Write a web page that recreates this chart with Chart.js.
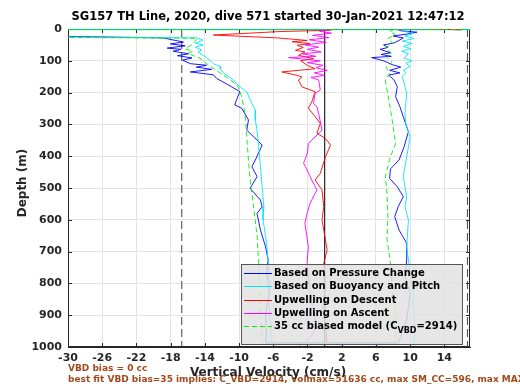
<!DOCTYPE html>
<html>
<head>
<meta charset="utf-8">
<script src="https://cdn.jsdelivr.net/npm/chart.js@4"></script>
<style>
  body { margin: 0; background: #fff; }
  canvas { display: block; }
</style>
</head>
<body>
<canvas id="chart" width="520" height="390"></canvas>
<script>
// Axis ticks
const xTicks = [-30, -26, -22, -18, -14, -10, -6, -2, 2, 6, 10, 14];
const yTicks = [0, 100, 200, 300, 400, 500, 600, 700, 800, 900, 1000];

// Based on Pressure Change (descent, then ascent)
const pcVel = [-40, -18.9, -16.5, -18.0, -16.3, -18.4, -16.8, -17.7, -15.9, -17.2, -15.5, -16.6, -15.7, -13.8, -15.0, -13.2, -15.7, -13.0, -12.6, -11.3, -9.9, -10.3, -10.5, -9.7, -8.9, -9.1, -8.3, -7.3, -8.1, -8.5, -7.9, -8.7, -7.5, -7.3, -7.9, -7.5, -6.9, -6.6, -6.8, -6.4, -6.9, -6.8, -6.9,
  8.6, 8.9, 9.6, 10.0, 9.4, 9.6, 9.6, 8.7, 8.2, 8.6, 9.2, 8.5, 7.6, 7.7, 8.7, 9.3, 9.8, 9.2, 8.8, 8.3, 8.5, 8.1, 7.5, 8.8, 7.6, 8.9, 7.9, 6.9, 5.5, 7.8, 6.6, 7.7, 6.5, 7.4, 6.9, 8.1, 8.7, 9.2, 8.0, 9.6, 10.8, 9.0, 8.5];
const pcDepth = [19, 28, 41, 47, 53, 60, 64, 70, 78, 84, 91, 98, 109, 114, 120, 127, 135, 144, 156, 175, 197, 223, 239, 249, 286, 318, 339, 365, 412, 433, 464, 501, 538, 559, 580, 632, 685, 726, 768, 821, 894, 957, 987,
  987, 967, 915, 831, 779, 726, 674, 632, 590, 559, 527, 496, 470, 440, 412, 370, 323, 276, 244, 213, 181, 160, 145, 138, 130, 120, 112, 100, 90, 86, 80, 75, 64, 58, 50, 44, 36, 28, 22, 16, 10, 6, 2];

// Based on Buoyancy and Pitch
const bpVel = [20, -40, -40, -14.9, -14.2, -15.1, -14.2, -15.1, -14.4, -14.8, -14.2, -13.8, -13.2, -13.0, -12.2, -12.2, -11.8, -11.4, -10.65, -10.3, -9.7, -9.1, -8.7, -8.1, -8.1, -7.9, -7.7, -7.5, -7.3, -7.1, -7.2, -6.9, -6.75, -6.55, -6.55, -6.4, -6.2, -6.0,
  10.5, 10.6, 10.4, 10.4, 10.0, 9.6, 9.8, 9.4, 9.6, 9.2, 9.6, 10.0, 9.5, 9.4, 9.6, 9.4, 9.2, 9.05, 9.5, 9.2, 10.0, 9.5, 10.2, 9.3, 9.8, 9.0, 10.1, 9.2, 10.2, 9.1, 10.4, 9.4, 10.3, 9.5, 9.6];
const bpDepth = [2, 2, 23, 28, 35, 45, 50, 57, 66, 72, 83, 90, 103, 109, 118, 125, 139, 146, 160, 172, 185, 197, 223, 255, 286, 318, 370, 433, 496, 559, 600, 650, 685, 747, 821, 915, 978, 992,
  992, 936, 870, 821, 768, 685, 600, 560, 527, 464, 402, 339, 300, 265, 202, 181, 160, 150, 138, 129, 118, 108, 100, 92, 77, 70, 62, 55, 45, 38, 30, 22, 15, 8, 3];

// Upwelling on Descent
const udVel = [16, 12, 1, 0.7, -5.2, -13, -5.5, -2.05, -3.8, -1.7, -3.2, -2.5, -3.4, -2.3, -3.05, -1.3, -2.8, -2.05, -1.1, -5.0, -3.2, -2.65, -3.05, -2.65, -1.1, -1.5, -1.9, -1.1, -0.5, -0.9, 0.1, 0.7, 0.1, -0.5, -1.1, -0.3, -0.1, -0.3, 0.3, -0.1, 0.1, -0.2, 0.1, 0.3, 1.3];
const udDepth = [3, -1, -1, 4, 8, 19, 28, 36, 40, 46, 51, 58, 67, 72, 83, 93, 100, 114, 125, 135, 146, 151, 161, 182, 197, 229, 249, 276, 297, 328, 344, 365, 402, 454, 475, 506, 559, 600, 695, 737, 800, 880, 940, 983, 992];

// Upwelling on Ascent (bottom to surface)
const uaVel = [-2.85, -1.7, -0.9, -1.3, -1.7, -2.0, -2.05, -1.9, -2.3, -2.05, -1.7, -0.9, -1.5, -2.05, -2.46, -2.0, -1.9, -0.3, -0.7, -0.9, -1.3, -1.1, -0.5, -0.7, -1.6, 0.0, -1.2, 0.3, -1.0, -0.2, -2.0, -0.5, -4.2, -1.0, -2.6, -0.4, -2.0, -0.7, -2.3, 0.2, -1.8, 0.5, -1.4, 0.8, -0.6, 0.6];
const uaDepth = [995, 973, 936, 894, 821, 760, 737, 685, 611, 580, 548, 506, 475, 443, 422, 390, 360, 318, 265, 244, 234, 202, 192, 160, 152, 146, 138, 130, 122, 114, 106, 100, 90, 86, 78, 72, 64, 57, 50, 42, 34, 27, 20, 13, 7, 2];

// 35 cc biased model
const modelVel = [20, -40, -40, -14.9, -15.3, -16.3, -15.4, -16.0, -14.55, -13.6, -12.2, -11.0, -10.1, -9.7, -9.3, -9.1, -8.9, -8.7, -8.3, -7.9, -7.7, -7.5, -7.3,
  8.3, 8.3, 7.9, 7.7, 7.3, 7.4, 7.3, 7.1, 7.6, 8.3, 7.9, 7.5, 7.1, 7.6, 7.2, 7.9, 7.3, 7.8, 7.1, 8.0, 7.4, 8.3, 7.6, 8.0];
const modelDepth = [2, 2, 25, 29, 45, 62, 70, 77, 92, 113, 139, 160, 181, 213, 265, 339, 412, 475, 559, 650, 737, 894, 989,
  989, 894, 820, 737, 660, 590, 517, 464, 410, 360, 286, 223, 160, 140, 120, 105, 90, 75, 60, 45, 30, 18, 8, 3];

// reference lines
const limitVel = [-16.7, 16.7];
const zeroVel = [0];

const seriesNames = ['Based on Pressure Change', 'Based on Buoyancy and Pitch', 'Upwelling on Descent', 'Upwelling on Ascent', '35 cc biased model'];
const seriesColors = ['#0000ff', '#00e5ff', '#ff0000', '#ff00ff', '#00ee00'];

const pts = (vel, depth) => vel.map((v, i) => ({x: v, y: depth[i]}));
const FONT = 'DejaVu Sans';
const AXIS = '#262626';

const datasets = [
  {data: pts(pcVel, pcDepth), borderColor: seriesColors[0], order: 5},
  {data: pts(bpVel, bpDepth), borderColor: seriesColors[1], order: 4},
  {data: pts(udVel, udDepth), borderColor: seriesColors[2], order: 3},
  {data: pts(uaVel, uaDepth), borderColor: seriesColors[3], order: 2},
  {data: pts(modelVel, modelDepth), borderColor: seriesColors[4], borderDash: [5, 3], order: 1},
];
limitVel.forEach(v => datasets.push({data: [{x: v, y: 0}, {x: v, y: 1000}], borderColor: '#404040', borderDash: [8, 4], order: 6}));
zeroVel.forEach(v => datasets.push({data: [{x: v, y: 0}, {x: v, y: 1000}], borderColor: '#303030', order: 6}));
datasets.forEach(d => {
  d.showLine = true;
  d.pointRadius = 0;
  d.borderWidth = d.order < 6 ? 0.9 : 1;
  d.fill = false;
  d.clip = 0;
});

const decor = {
  id: 'decor',
  beforeDatasetsDraw(chart) {
    const {ctx, chartArea: a, scales: {x, y}} = chart;
    ctx.save();
    ctx.strokeStyle = AXIS;
    ctx.lineWidth = 1;
    ctx.strokeRect(a.left + 0.5, a.top + 0.5, a.right - a.left - 1, a.bottom - a.top - 1);
    ctx.beginPath();
    xTicks.forEach(v => {
      const px = Math.round(x.getPixelForValue(v)) + 0.5;
      ctx.moveTo(px, a.bottom); ctx.lineTo(px, a.bottom - 4);
      ctx.moveTo(px, a.top); ctx.lineTo(px, a.top + 4);
    });
    yTicks.forEach(v => {
      const py = Math.round(y.getPixelForValue(v)) + 0.5;
      ctx.moveTo(a.left, py); ctx.lineTo(a.left + 4, py);
      ctx.moveTo(a.right, py); ctx.lineTo(a.right - 4, py);
    });
    ctx.stroke();
    ctx.restore();
  },
  afterDatasetsDraw(chart) {
    const {ctx, chartArea: a} = chart;
    const bx = Math.round(a.right - 229), by = Math.round(a.bottom - 83), bw = 221, bh = 80;
    ctx.save();
    ctx.fillStyle = 'rgba(226,226,226,0.85)';
    ctx.fillRect(bx, by, bw, bh);
    ctx.strokeStyle = '#555';
    ctx.lineWidth = 1;
    ctx.strokeRect(bx + 0.5, by + 0.5, bw, bh);
    ctx.font = 'bold 10px ' + FONT;
    ctx.textBaseline = 'middle';
    ctx.fillStyle = '#000';
    seriesNames.forEach((name, i) => {
      const ry = Math.round(by + 9 + i * 13.3) + 0.5;
      ctx.beginPath();
      ctx.strokeStyle = seriesColors[i];
      ctx.setLineDash(i === 4 ? [5, 3] : []);
      ctx.moveTo(bx + 3, ry); ctx.lineTo(bx + 31, ry);
      ctx.stroke();
      ctx.setLineDash([]);
      let tx = bx + 33;
      if (i === 4) {
        const head = name + ' (C';
        ctx.fillText(head, tx, ry);
        tx += ctx.measureText(head).width;
        ctx.font = 'bold 8px ' + FONT;
        ctx.fillText('VBD', tx, ry + 4);
        tx += ctx.measureText('VBD').width;
        ctx.font = 'bold 10px ' + FONT;
        ctx.fillText('=2914)', tx, ry);
      } else {
        ctx.fillText(name, tx, ry);
      }
    });
    ctx.restore();
  },
  afterDraw(chart) {
    const {ctx} = chart;
    ctx.save();
    ctx.textBaseline = 'middle';
    ctx.fillStyle = '#000';
    ctx.textAlign = 'center';
    ctx.font = 'bold 11.5px ' + FONT;
    ctx.fillText('SG157 TH Line, 2020, dive 571 started 30-Jan-2021 12:47:12', 268, 17);
    // notes under the axis
    ctx.textAlign = 'left';
    ctx.fillStyle = '#a24a1c';
    ctx.font = 'bold 9px ' + FONT;
    ctx.fillText('VBD bias = 0 cc', 68, 369);
    ctx.fillText('best fit VBD bias=35 implies: C_VBD=2914, Volmax=51636 cc, max SM_CC=596, max MAX_BUOY', 68, 380);
    ctx.fillStyle = AXIS;
    ctx.textAlign = 'center';
    ctx.font = 'bold 12px ' + FONT;
    ctx.fillText('Vertical Velocity (cm/s)', 268, 373);
    ctx.translate(23, 183);
    ctx.rotate(-Math.PI / 2);
    ctx.font = 'bold 12px ' + FONT;
    ctx.fillText('Depth (m)', 0, 0);
    ctx.restore();
  }
};

const tickFont = {family: FONT, size: 11, weight: 'bold'};

new Chart(document.getElementById('chart').getContext('2d'), {
  type: 'scatter',
  data: {datasets},
  options: {
    responsive: false,
    animation: false,
    devicePixelRatio: 1,
    layout: {padding: {left: 0, right: 50, top: 29, bottom: 0}},
    plugins: {legend: {display: false}, tooltip: {enabled: false}},
    scales: {
      x: {
        type: 'linear', min: -30, max: 17,
        afterBuildTicks: s => { s.ticks = xTicks.map(v => ({value: v})); },
        afterFit: s => { s.height = 43; },
        ticks: {font: tickFont, color: AXIS, padding: 5, maxRotation: 0, autoSkip: false, callback: v => String(v)},
        grid: {color: '#e3e3e3', drawTicks: false},
        border: {color: AXIS}
      },
      y: {
        type: 'linear', reverse: true, min: 0, max: 1000,
        afterBuildTicks: s => { s.ticks = yTicks.map(v => ({value: v})); },
        afterFit: s => { s.width = 68; },
        ticks: {font: tickFont, color: AXIS, padding: 6, autoSkip: false, callback: v => String(v)},
        grid: {color: '#e3e3e3', drawTicks: false},
        border: {color: AXIS}
      }
    }
  },
  plugins: [decor]
});
</script>
</body>
</html>
